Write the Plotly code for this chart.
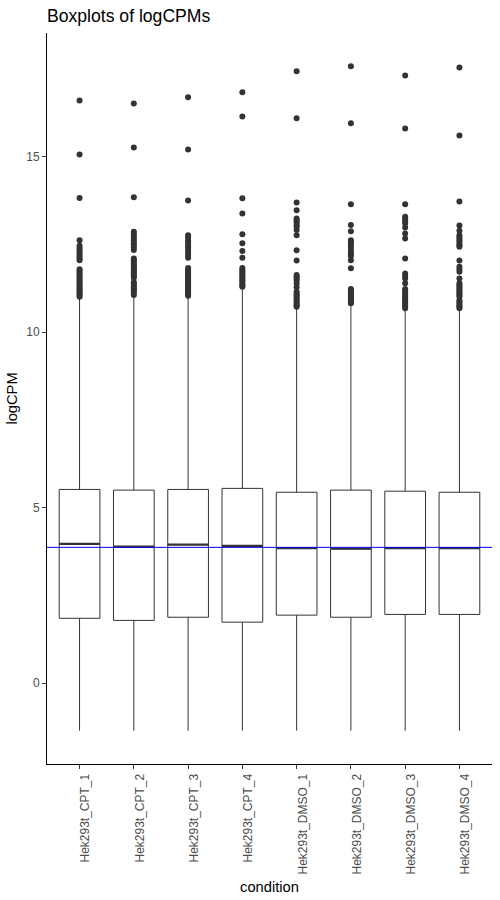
import plotly.graph_objects as go

samples = ["Hek293t_CPT_1", "Hek293t_CPT_2", "Hek293t_CPT_3", "Hek293t_CPT_4",
           "Hek293t_DMSO_1", "Hek293t_DMSO_2", "Hek293t_DMSO_3", "Hek293t_DMSO_4"]
positions = [1, 2, 3, 4, 5, 6, 7, 8]

q1 = [1.85, 1.79, 1.88, 1.74, 1.94, 1.88, 1.96, 1.96]
median = [3.97, 3.89, 3.95, 3.91, 3.85, 3.83, 3.85, 3.85]
q3 = [5.52, 5.50, 5.52, 5.55, 5.44, 5.50, 5.47, 5.44]
lower_whisker = [-1.35, -1.35, -1.35, -1.35, -1.35, -1.35, -1.35, -1.35]
upper_whisker = [10.95, 11.02, 10.98, 11.25, 10.68, 10.79, 10.63, 10.63]

outliers_cpt1 = [16.60, 15.06, 13.82, 12.62, 12.46, 12.40, 12.34, 12.27, 12.21, 12.15, 12.10, 12.05,
                 11.79, 11.74, 11.69, 11.64, 11.59, 11.54, 11.49, 11.44, 11.39, 11.34, 11.29, 11.24,
                 11.19, 11.14, 11.09, 11.05, 11.01]
outliers_cpt2 = [16.51, 15.26, 13.84, 12.86, 12.80, 12.74, 12.67, 12.60, 12.53, 12.48, 12.41, 12.34,
                 12.10, 12.05, 12.00, 11.95, 11.90, 11.85, 11.80, 11.75, 11.70, 11.65, 11.60, 11.55,
                 11.42, 11.37, 11.32, 11.27, 11.22, 11.17, 11.12, 11.06]
outliers_cpt3 = [16.69, 15.20, 13.75, 12.76, 12.70, 12.62, 12.55, 12.48, 12.41, 12.34, 12.27, 12.19, 12.12,
                 11.83, 11.78, 11.73, 11.68, 11.63, 11.58, 11.53, 11.48, 11.43, 11.38, 11.33, 11.28,
                 11.23, 11.18, 11.13, 11.08, 11.04]
outliers_cpt4 = [16.83, 16.14, 13.81, 13.38, 12.79, 12.53, 12.31, 12.12, 11.83, 11.78, 11.73, 11.68,
                 11.63, 11.58, 11.53, 11.48, 11.43, 11.38, 11.33, 11.29]
outliers_dmso1 = [17.43, 16.09, 13.69, 13.47, 13.24, 13.18, 13.12, 13.06, 13.00, 12.91, 12.76, 12.33,
                  12.04, 11.63, 11.58, 11.53, 11.48, 11.39, 11.28, 11.15, 11.10, 11.05, 11.00, 10.95,
                  10.90, 10.85, 10.80, 10.76, 10.72]
outliers_dmso2 = [17.57, 15.95, 13.64, 13.05, 12.87, 12.62, 12.56, 12.50, 12.43, 12.34, 12.28, 12.22,
                  12.17, 12.05, 11.82, 11.23, 11.18, 11.13, 11.08, 11.03, 10.98, 10.93, 10.88, 10.84, 10.82]
outliers_dmso3 = [17.31, 15.80, 13.64, 13.29, 13.23, 13.16, 13.10, 12.98, 12.81, 12.67, 12.10, 11.67,
                  11.60, 11.53, 11.39, 11.23, 11.18, 11.13, 11.08, 11.03, 10.98, 10.93, 10.88, 10.83,
                  10.78, 10.73, 10.68]
outliers_dmso4 = [17.54, 15.60, 13.72, 13.04, 12.89, 12.76, 12.70, 12.64, 12.58, 12.52, 12.47, 12.43,
                  12.04, 11.86, 11.79, 11.72, 11.53, 11.39, 11.34, 11.29, 11.24, 11.19, 11.14, 11.09,
                  11.05, 11.01, 10.91, 10.86, 10.81, 10.76, 10.72, 10.68]
outliers = [outliers_cpt1, outliers_cpt2, outliers_cpt3, outliers_cpt4,
            outliers_dmso1, outliers_dmso2, outliers_dmso3, outliers_dmso4]

hline_value = 3.87
y_ticks = [0, 5, 10, 15]

BOX_W = 0.75
DARK = "#333333"
FONT = "Liberation Sans, Arial, sans-serif"

fig = go.Figure()

fig.add_trace(go.Box(
    x=positions, q1=q1, median=median, q3=q3,
    lowerfence=lower_whisker, upperfence=upper_whisker,
    width=BOX_W, boxpoints=False, whiskerwidth=0,
    fillcolor="white", line=dict(color=DARK, width=1),
    hoverinfo="skip", showlegend=False,
))

# thicker median segments (ggplot fatten)
mx, my = [], []
for p, m in zip(positions, median):
    mx += [p - BOX_W / 2, p + BOX_W / 2, None]
    my += [m, m, None]
fig.add_trace(go.Scatter(x=mx, y=my, mode="lines", line=dict(color=DARK, width=2.2),
                         hoverinfo="skip", showlegend=False))

ox, oy = [], []
for p, vals in zip(positions, outliers):
    ox += [p] * len(vals)
    oy += vals
fig.add_trace(go.Scatter(x=ox, y=oy, mode="markers",
                         marker=dict(color=DARK, size=6, line=dict(width=0)),
                         hoverinfo="skip", showlegend=False))

fig.add_shape(type="line", xref="paper", x0=0, x1=1, yref="y", y0=hline_value, y1=hline_value,
              line=dict(color="#0000FF", width=1), layer="above")

fig.update_layout(
    width=500, height=900,
    margin=dict(l=47, r=8, t=33, b=136),
    paper_bgcolor="white", plot_bgcolor="white",
    font=dict(family=FONT, color="#4D4D4D", size=12),
    title=dict(text="Boxplots of logCPMs", font=dict(family=FONT, size=17.6, color="black"),
               xref="paper", x=0, xanchor="left", yref="container", y=0.982, yanchor="middle"),
    xaxis=dict(range=[0.4, 8.6], tickmode="array", tickvals=positions, ticktext=samples,
               tickangle=-90, showline=True, linecolor="black", linewidth=1,
               ticks="outside", ticklen=4, tickwidth=1, tickcolor=DARK,
               showgrid=False, zeroline=False, ticklabelshift=6,
               tickfont=dict(family=FONT, size=12, color="#4D4D4D"),
               title=dict(text="condition", font=dict(family=FONT, size=14.7, color="black"), standoff=8)),
    yaxis=dict(range=[-2.30, 18.52], tickmode="array", tickvals=y_ticks,
               showline=True, linecolor="black", linewidth=1,
               ticks="outside", ticklen=4, tickwidth=1, tickcolor=DARK,
               showgrid=False, zeroline=False,
               tickfont=dict(family=FONT, size=12, color="#4D4D4D"),
               title=dict(text="logCPM", font=dict(family=FONT, size=14.7, color="black"), standoff=5)),
)

fig.write_html("out.html")
